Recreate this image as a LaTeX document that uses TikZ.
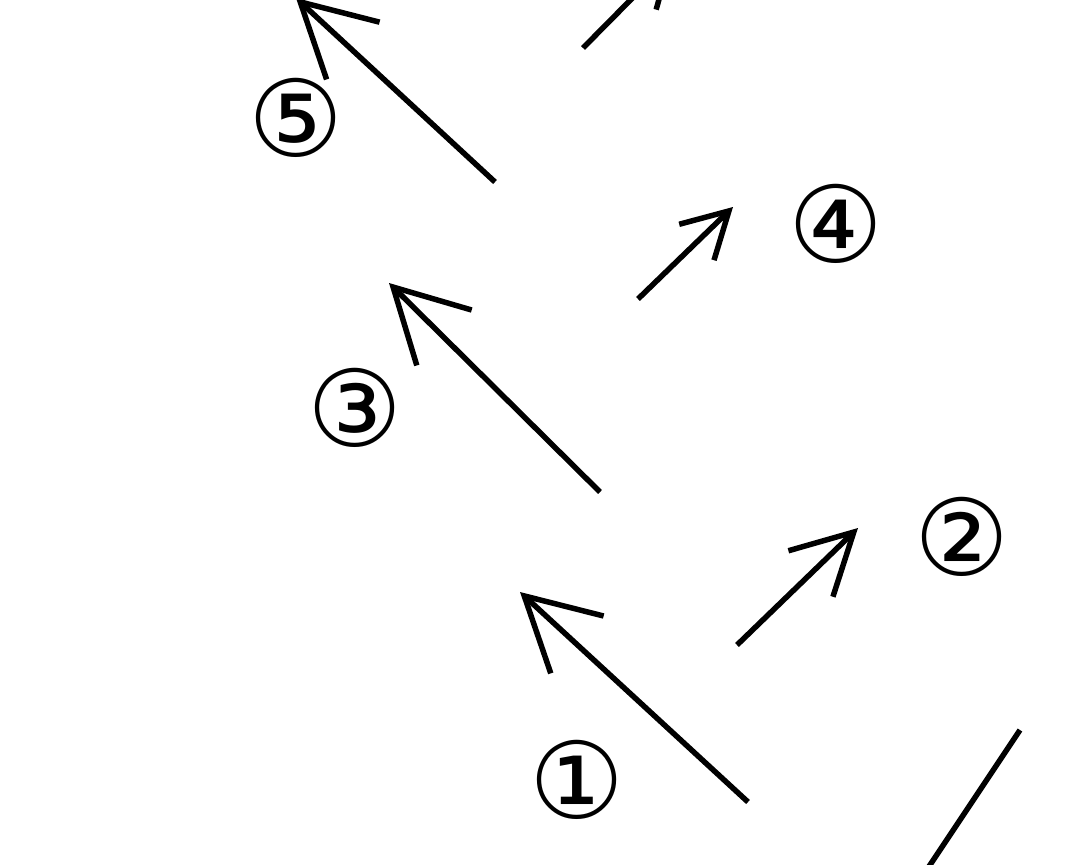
\documentclass[tikz,border=0pt]{standalone}
\usepackage{fontspec}
\newfontfamily\circfont{DejaVu Sans}
\usetikzlibrary{arrows.meta}

\begin{document}
\begin{tikzpicture}[x=1pt,y=-1pt,
    vec/.style={line width=5.5pt,-{Straight Barb[length=72pt,width=78pt,line width=5.5pt]}},
    midvec/.style={line width=5.5pt,-{Straight Barb[length=60pt,width=64pt,line width=5.5pt]}},
    smallvec/.style={line width=5.5pt,-{Straight Barb[length=45pt,width=50pt,line width=5.5pt]}},
    num/.style={font=\circfont\fontsize{106}{106}\selectfont,inner sep=0pt}]
            \useasboundingbox (0,0) rectangle (1080,865);
            \clip (0,0) rectangle (1080,865);

            \coordinate (t1) at (748,802); \coordinate (h1) at (520,592);
            \coordinate (t2) at (737,645); \coordinate (h2) at (858,528);
            \coordinate (t3) at (600,492); \coordinate (h3) at (389,283);
            \coordinate (t4) at (638,299); \coordinate (h4) at (733,207);
            \coordinate (t5) at (495,182); \coordinate (h5) at (296,-2);
            \coordinate (t6) at (583,48);  \coordinate (h6) at (674,-44);
            \coordinate (t7) at (1020,730); \coordinate (h7) at (900,910);

            \draw[vec] (t1) to (h1);
            \draw[midvec] (t2) to (h2);
            \draw[vec] (t3) to (h3);
            \draw[smallvec] (t4) to (h4);
            \draw[vec] (t5) to (h5);
            \draw[smallvec] (t6) to (h6);
            \draw[line width=5.5pt] (t7) to (h7);

            \node[num] (n1) at (577,780) {①};
            \node[num] (n2) at (962,537) {②};
            \node[num] (n3) at (355,408) {③};
            \node[num] (n4) at (836,224) {④};
            \node[num] (n5) at (296,118) {⑤};
        \end{tikzpicture}
\end{document}
